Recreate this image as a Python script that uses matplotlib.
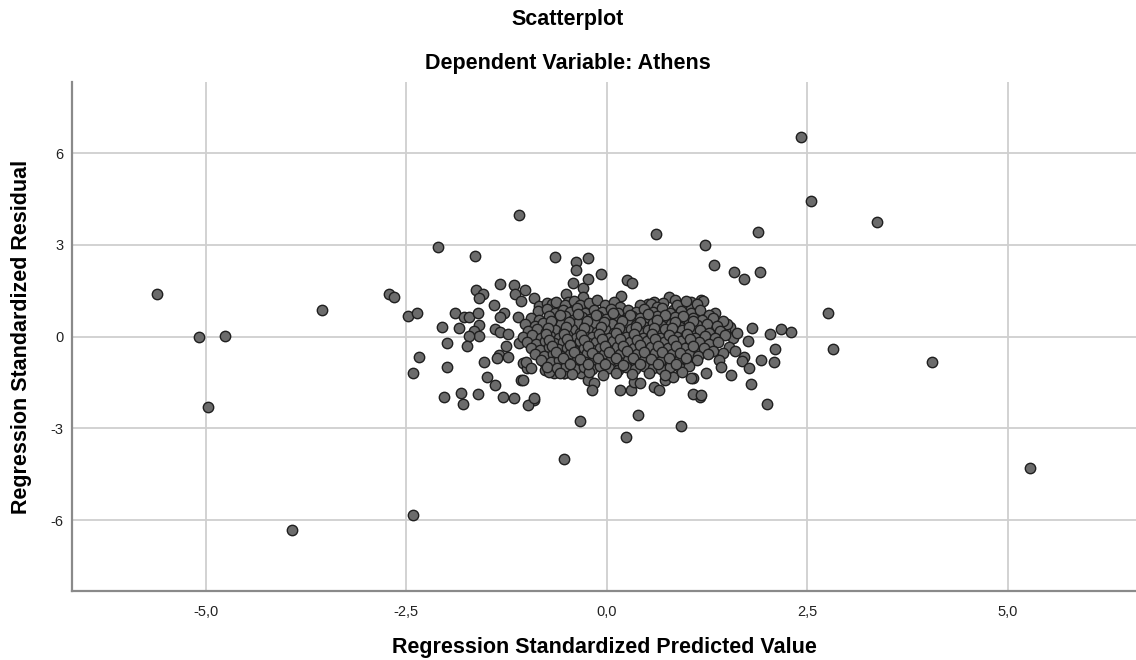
import numpy as np
import matplotlib
matplotlib.use("Agg")
import matplotlib.pyplot as plt

plt.rcParams['font.family'] = ['Liberation Sans', 'DejaVu Sans']

# 远离中心的点
outliers = [(-5.61, 1.38), (-5.08, 0.00), (-4.76, 0.03), (-4.97, -2.31), (-3.55, 0.87),
            (-3.92, -6.33), (-2.72, 1.38), (-2.66, 1.30), (-2.48, 0.67), (-2.37, 0.76),
            (-2.06, 0.30), (-2.34, -0.68), (-2.42, -1.18), (-2.42, -5.84), (-0.54, -4.00),
            (-0.34, -2.76), (0.24, -3.29), (0.39, -2.57), (0.92, -2.93), (2.55, 4.43),
            (2.42, 6.53), (3.37, 3.75), (4.06, -0.83), (5.28, -4.30)]

# 左侧外围
left_edge = [(-2.11, 2.92), (-1.64, 2.64), (-1.33, 1.71), (-1.63, 1.54), (-1.54, 1.41),
             (-1.59, 1.27), (-1.16, 1.69), (-1.15, 1.41), (-1.02, 1.52), (-1.07, 1.17),
             (-1.41, 1.05), (-0.91, 1.27), (-1.89, 0.79), (-1.78, 0.63), (-1.72, 0.63),
             (-1.61, 0.76), (-1.28, 0.76), (-1.33, 0.63), (-1.11, 0.65), (-1.84, 0.29),
             (-1.59, 0.38), (-1.66, 0.19), (-1.60, 0.02), (-1.40, 0.24), (-1.33, 0.16),
             (-1.23, 0.08), (-1.72, 0.02), (-1.99, -0.22), (-1.74, -0.31), (-1.26, -0.31),
             (-1.09, -0.20), (-0.99, -0.11), (-1.34, -0.61), (-1.23, -0.66), (-1.37, -0.71),
             (-1.53, -0.84), (-1.99, -0.99), (-1.04, -0.86), (-1.00, -1.02), (-1.07, -1.42),
             (-1.49, -1.32), (-1.39, -1.59), (-0.87, -0.50), (-0.78, -0.82), (-0.77, -1.10),
             (-0.66, -1.20), (-0.54, -1.20), (-2.03, -1.99), (-1.82, -1.84), (-1.79, -2.19),
             (-1.61, -1.86), (-1.30, -1.99), (-1.16, -2.02), (-0.91, -2.08), (-0.98, -2.24),
             (-1.09, 3.97), (-0.85, 1.00), (-0.74, 1.09), (-0.68, 1.06), (-0.51, 1.41),
             (-0.49, 1.14), (-0.30, 1.58), (-0.30, 1.30), (-1.01, -0.82), (-0.95, -1.04),
             (-1.05, -1.42), (-0.76, -0.77), (-0.72, -1.15), (-0.57, -0.88), (-0.53, -1.20),
             (-0.39, -0.82), (-0.32, -1.20), (-0.24, -1.42), (-0.16, -1.53), (-0.18, -1.75),
             (-0.91, -2.02)]

# 上方与右侧外围
upper_right = [(-0.64, 2.61), (-0.38, 2.43), (-0.38, 2.18), (-0.42, 1.74), (-0.24, 2.57),
               (-0.07, 2.06), (-0.23, 1.90), (0.25, 1.85), (0.32, 1.74), (0.18, 1.33),
               (0.61, 3.36), (0.78, 1.30), (0.85, 1.19), (1.18, 1.19), (1.05, 1.14),
               (0.94, 0.98), (1.05, 0.89), (0.51, 1.06), (0.59, 1.14), (0.70, 1.10),
               (0.82, 0.87), (1.23, 3.00), (1.34, 2.35), (1.59, 2.12), (1.71, 1.89),
               (1.91, 2.10), (1.88, 3.43), (2.76, 0.76), (2.82, -0.39), (2.30, 0.16),
               (2.17, 0.24), (2.04, 0.10), (1.81, 0.27), (1.54, 0.31), (1.76, -0.15),
               (2.10, -0.42), (2.09, -0.82), (1.92, -0.75), (1.71, -0.66), (1.69, -0.80),
               (1.77, -1.02), (1.55, -1.27), (1.80, -1.56), (2.00, -2.20), (1.20, 1.17),
               (1.16, -1.97), (1.07, -1.86), (1.24, -1.20), (1.07, -1.35), (0.17, -1.75),
               (0.30, -1.75), (0.34, -1.48), (0.42, -1.53), (0.59, -1.64), (0.65, -1.75),
               (1.05, -1.34), (1.17, -1.91), (0.72, -1.42), (0.82, -1.32), (1.48, 0.18),
               (1.58, -0.05), (1.62, 0.12), (1.52, -0.35), (1.45, -0.55), (1.60, -0.48),
               (1.40, -0.75), (1.50, 0.42), (1.35, 0.78), (1.42, -1.00)]

# 中心密集区
core = [(-0.63, 1.12), (-0.52, 1.05), (-0.41, 1.18), (-0.33, 1.02), (-0.22, 1.10), (-0.12, 1.21),
        (-0.02, 1.04), (0.09, 1.13), (0.17, 0.98), (0.41, 1.02), (0.55, 1.08), (0.62, 0.96),
        (0.88, 1.05), (0.99, 1.17), (1.12, 1.08),
        (-0.86, 0.84), (-0.75, 0.92), (-0.64, 0.78), (-0.55, 0.88), (-0.46, 0.81), (-0.37, 0.93),
        (-0.27, 0.76), (-0.16, 0.87), (-0.06, 0.80), (0.05, 0.91), (0.14, 0.77), (0.26, 0.86),
        (0.36, 0.80), (0.47, 0.90), (0.58, 0.82), (0.69, 0.93), (0.79, 0.76), (0.93, 0.84),
        (1.05, 0.78), (1.16, 0.88), (1.27, 0.71),
        (-0.95, 0.62), (-0.84, 0.55), (-0.72, 0.66), (-0.61, 0.58), (-0.52, 0.69), (-0.42, 0.56),
        (-0.31, 0.63), (-0.21, 0.57), (-0.11, 0.68), (-0.01, 0.59), (0.10, 0.64), (0.20, 0.55),
        (0.31, 0.67), (0.42, 0.60), (0.52, 0.53), (0.63, 0.66), (0.74, 0.58), (0.85, 0.63),
        (0.96, 0.55), (1.08, 0.62), (1.19, 0.54), (1.33, 0.60), (1.45, 0.52),
        (-1.02, 0.41), (-0.90, 0.36), (-0.79, 0.45), (-0.68, 0.38), (-0.57, 0.43), (-0.47, 0.34),
        (-0.36, 0.44), (-0.26, 0.37), (-0.15, 0.46), (-0.05, 0.35), (0.06, 0.42), (0.16, 0.33),
        (0.27, 0.45), (0.37, 0.39), (0.48, 0.31), (0.58, 0.44), (0.69, 0.36), (0.80, 0.41),
        (0.91, 0.33), (1.02, 0.45), (1.13, 0.37), (1.25, 0.42), (1.38, 0.35),
        (-0.98, 0.18), (-0.87, 0.24), (-0.76, 0.14), (-0.65, 0.22), (-0.54, 0.16), (-0.44, 0.25),
        (-0.33, 0.13), (-0.23, 0.21), (-0.12, 0.15), (-0.02, 0.24), (0.09, 0.12), (0.19, 0.20),
        (0.30, 0.26), (0.40, 0.14), (0.51, 0.22), (0.62, 0.17), (0.72, 0.25), (0.83, 0.13),
        (0.94, 0.21), (1.05, 0.15), (1.16, 0.23), (1.28, 0.12), (1.41, 0.19),
        (-1.04, -0.02), (-0.93, 0.05), (-0.82, -0.04), (-0.71, 0.03), (-0.60, -0.05), (-0.50, 0.04),
        (-0.39, -0.03), (-0.29, 0.06), (-0.18, -0.02), (-0.08, 0.03), (0.03, -0.04), (0.13, 0.05),
        (0.24, -0.01), (0.34, 0.04), (0.45, -0.06), (0.55, 0.02), (0.66, -0.03), (0.77, 0.05),
        (0.88, -0.02), (0.99, 0.04), (1.10, -0.05), (1.22, 0.02), (1.35, -0.03), (1.48, 0.05),
        (-0.99, -0.18), (-0.88, -0.25), (-0.77, -0.15), (-0.66, -0.22), (-0.55, -0.16), (-0.45, -0.26),
        (-0.34, -0.14), (-0.24, -0.21), (-0.13, -0.17), (-0.03, -0.25), (0.08, -0.13), (0.18, -0.22),
        (0.29, -0.16), (0.39, -0.24), (0.50, -0.14), (0.61, -0.21), (0.71, -0.17), (0.82, -0.26),
        (0.93, -0.15), (1.04, -0.22), (1.15, -0.18), (1.27, -0.25), (1.39, -0.16),
        (-0.94, -0.38), (-0.83, -0.44), (-0.72, -0.35), (-0.61, -0.42), (-0.50, -0.37), (-0.40, -0.46),
        (-0.29, -0.36), (-0.19, -0.43), (-0.08, -0.38), (0.02, -0.45), (0.13, -0.34), (0.23, -0.41),
        (0.34, -0.37), (0.44, -0.44), (0.55, -0.35), (0.66, -0.42), (0.76, -0.38), (0.87, -0.45),
        (0.98, -0.36), (1.09, -0.43), (1.21, -0.37), (1.33, -0.46),
        (-0.89, -0.58), (-0.78, -0.64), (-0.67, -0.56), (-0.57, -0.63), (-0.46, -0.57), (-0.35, -0.66),
        (-0.25, -0.55), (-0.14, -0.62), (-0.04, -0.58), (0.07, -0.65), (0.17, -0.56), (0.28, -0.61),
        (0.38, -0.57), (0.49, -0.66), (0.60, -0.55), (0.70, -0.63), (0.81, -0.58), (0.92, -0.64),
        (1.03, -0.56), (1.14, -0.62), (1.26, -0.57),
        (-0.82, -0.78), (-0.70, -0.84), (-0.59, -0.76), (-0.48, -0.85), (-0.37, -0.77), (-0.27, -0.83),
        (-0.16, -0.79), (-0.06, -0.86), (0.05, -0.76), (0.15, -0.82), (0.26, -0.78), (0.36, -0.85),
        (0.47, -0.77), (0.57, -0.83), (0.68, -0.79), (0.79, -0.86), (0.90, -0.76), (1.01, -0.82),
        (1.12, -0.78),
        (-0.74, -0.98), (-0.62, -1.04), (-0.51, -0.96), (-0.40, -1.06), (-0.29, -0.99), (-0.18, -1.05),
        (-0.08, -0.97), (0.03, -1.04), (0.14, -1.08), (0.24, -0.98), (0.35, -1.05), (0.46, -0.96),
        (0.57, -1.03), (0.68, -1.07), (0.79, -0.99), (0.91, -1.04), (1.02, -0.97),
        (-0.58, -1.18), (-0.44, -1.22), (-0.22, -1.17), (-0.05, -1.25), (0.11, -1.19), (0.31, -1.23),
        (0.52, -1.18), (0.73, -1.24), (0.94, -1.17)]

core2 = [(-0.58, 0.71), (-0.36, 0.74), (-0.14, 0.72), (0.08, 0.76), (0.29, 0.70), (0.51, 0.73),
         (0.73, 0.71), (0.95, 0.69),
         (-0.69, 0.50), (-0.47, 0.48), (-0.25, 0.52), (-0.03, 0.47), (0.19, 0.51), (0.41, 0.49),
         (0.63, 0.53), (0.85, 0.47), (1.07, 0.50),
         (-0.73, 0.29), (-0.51, 0.31), (-0.29, 0.27), (-0.07, 0.30), (0.15, 0.28), (0.37, 0.32),
         (0.59, 0.29), (0.81, 0.27), (1.03, 0.31),
         (-0.76, 0.08), (-0.54, 0.10), (-0.32, 0.07), (-0.10, 0.09), (0.12, 0.11), (0.34, 0.08),
         (0.56, 0.10), (0.78, 0.07), (1.00, 0.09),
         (-0.72, -0.10), (-0.50, -0.08), (-0.28, -0.11), (-0.06, -0.09), (0.16, -0.07), (0.38, -0.10),
         (0.60, -0.08), (0.82, -0.11), (1.04, -0.09),
         (-0.68, -0.30), (-0.46, -0.28), (-0.24, -0.31), (-0.02, -0.29), (0.20, -0.32), (0.42, -0.28),
         (0.64, -0.30), (0.86, -0.29), (1.08, -0.31),
         (-0.63, -0.51), (-0.41, -0.49), (-0.19, -0.52), (0.03, -0.50), (0.25, -0.48), (0.47, -0.51),
         (0.69, -0.49), (0.91, -0.52),
         (-0.55, -0.70), (-0.33, -0.72), (-0.11, -0.69), (0.11, -0.71), (0.33, -0.70), (0.55, -0.72),
         (0.77, -0.69), (0.99, -0.71),
         (-0.46, -0.90), (-0.24, -0.91), (-0.02, -0.89), (0.20, -0.92), (0.42, -0.90), (0.64, -0.91),
         (0.86, -0.89)]

x_ticks = [-5.0, -2.5, 0.0, 2.5, 5.0]
x_tick_labels = ['-5,0', '-2,5', '0,0', '2,5', '5,0']
y_ticks = [-6, -3, 0, 3, 6]
y_tick_labels = ['-6', '-3', '0', '3', '6']

pts = np.array(outliers + left_edge + upper_right + core + core2)
pred = pts[:, 0]
resid = pts[:, 1]

fig = plt.figure(figsize=(11.36, 6.6), dpi=100)
ax = fig.add_axes([72 / 1136, 1 - 591 / 660, 1 - 72 / 1136, (591 - 82) / 660])

ax.scatter(pred, resid, s=56, facecolor='#6b6b6b', edgecolor='#1f1f1f', linewidths=1.0, zorder=3)

ax.set_xlim(-6.67, 6.6)
ax.set_ylim(-8.32, 8.33)
ax.set_xticks(x_ticks)
ax.set_xticklabels(x_tick_labels)
ax.set_yticks(y_ticks)
ax.set_yticklabels(y_tick_labels)
ax.tick_params(length=0, labelsize=10.5, colors='#222222')
ax.tick_params(axis='x', pad=10)
ax.tick_params(axis='y', pad=6)
ax.grid(True, color='#cfcfcf', linewidth=1.3)
ax.set_axisbelow(True)

for s in ['top', 'right']:
    ax.spines[s].set_visible(False)
for s in ['left', 'bottom']:
    ax.spines[s].set_color('#8a8a8a')
    ax.spines[s].set_linewidth(1.6)

ax.set_xlabel('Regression Standardized Predicted Value', fontsize=15.5, fontweight='bold')
ax.xaxis.label.set_va('center')
ax.xaxis.set_label_coords(0.5, (591 - 647) / 509)
ax.set_ylabel('Regression Standardized Residual', fontsize=15.5, fontweight='bold')
ax.yaxis.label.set_va('center')
ax.yaxis.set_label_coords((22 - 72) / 1064, 0.5)

fig.text(0.5, 1 - 20 / 660, 'Scatterplot', ha='center', va='center', fontsize=15.5, fontweight='bold')
fig.text(0.5, 1 - 64 / 660, 'Dependent Variable: Athens', ha='center', va='center', fontsize=15.5, fontweight='bold')

fig.savefig('out.png', dpi=100)
